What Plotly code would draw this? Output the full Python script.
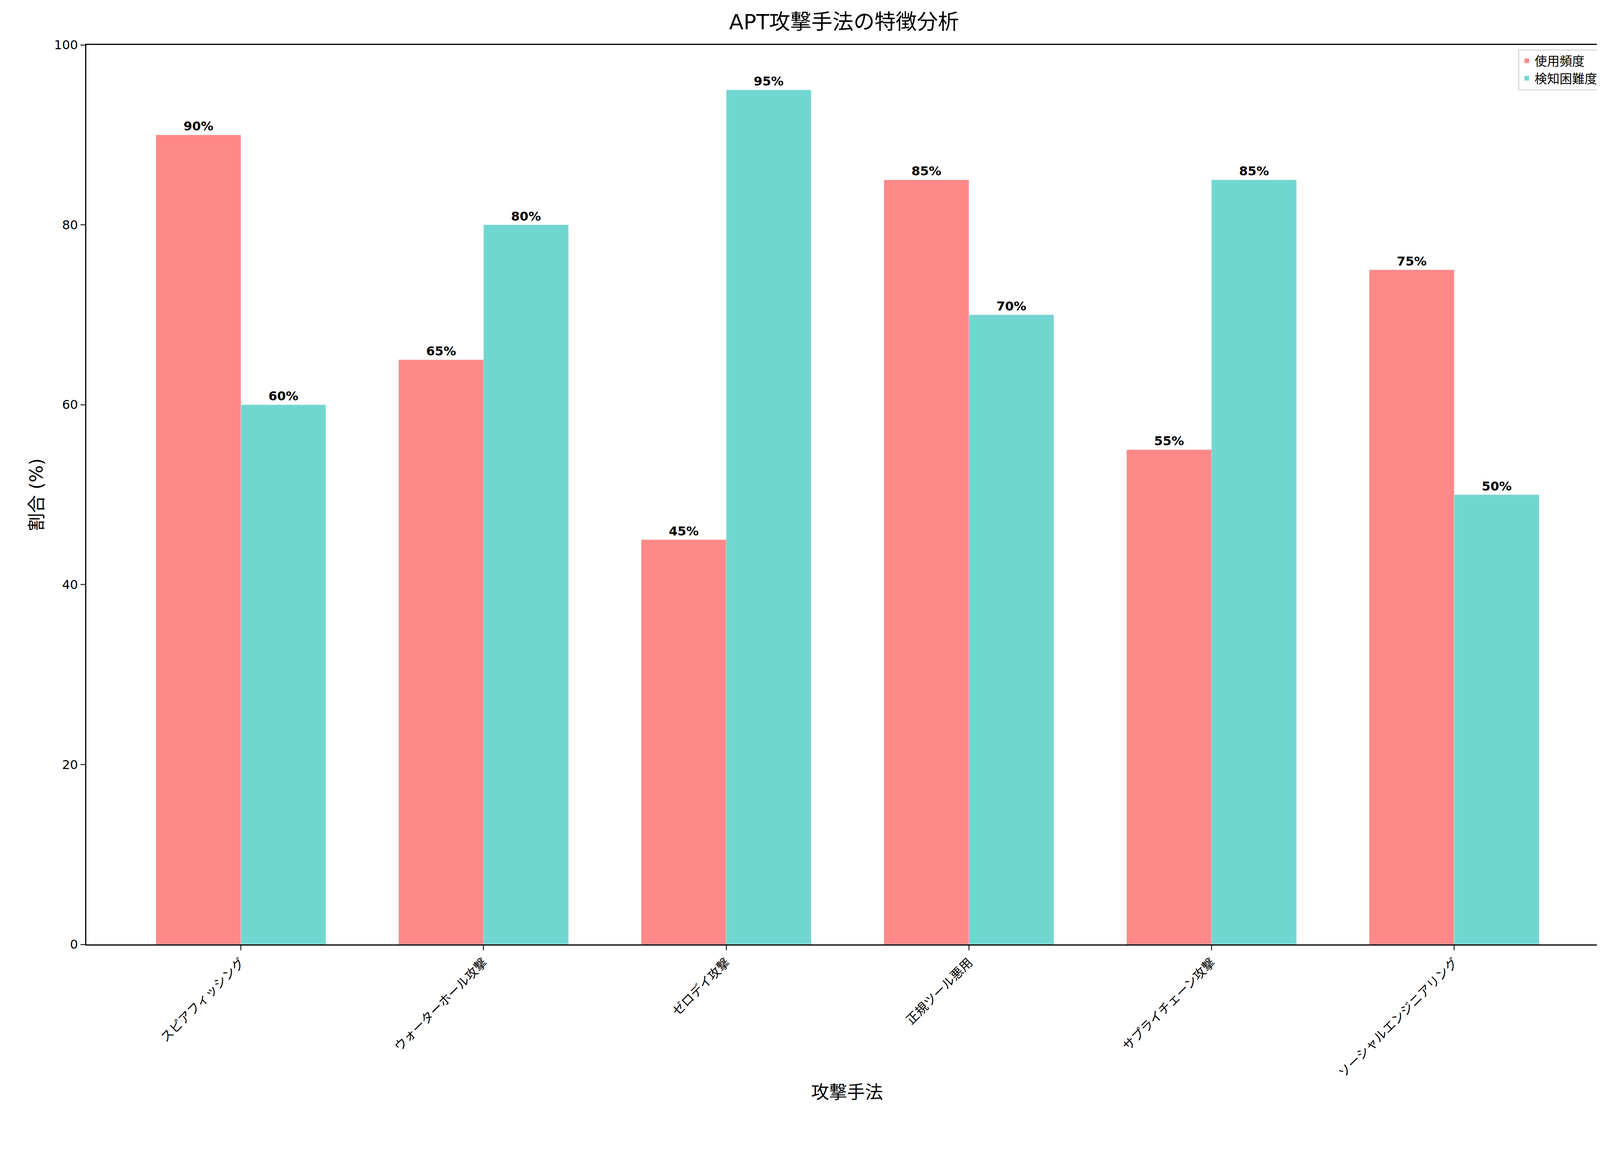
import plotly.graph_objects as go

categories = ["スピアフィッシング", "ウォーターホール攻撃", "ゼロデイ攻撃", "正規ツール悪用", "サプライチェーン攻撃", "ソーシャルエンジニアリング"]
usage = [90, 65, 45, 85, 55, 75]
difficulty = [60, 80, 95, 70, 85, 50]
y_ticks = [0, 20, 40, 60, 80, 100]

F = "DejaVu Sans, Noto Sans CJK JP"
fig = go.Figure()
fig.add_bar(x=categories, y=usage, name="使用頻度", marker_color="rgb(255,137,137)",
            text=[f"{v}%" for v in usage], textposition="outside",
            textfont=dict(size=32, color="black", family=F, weight="bold"), cliponaxis=False)
fig.add_bar(x=categories, y=difficulty, name="検知困難度", marker_color="rgb(114,214,208)",
            text=[f"{v}%" for v in difficulty], textposition="outside",
            textfont=dict(size=32, color="black", family=F, weight="bold"), cliponaxis=False)
fig.update_layout(
    width=4140, height=2940, barmode="group", bargap=0.3, bargroupgap=0,
    plot_bgcolor="white", paper_bgcolor="white",
    font=dict(family=F, size=32, color="black"),
    margin=dict(l=213, r=32, t=107, b=530),
    title=dict(text="APT攻撃手法の特徴分析", x=0.52, xanchor="center", y=0.99, yanchor="top", font=dict(size=54)),
    legend=dict(x=0.995, y=0.995, xanchor="right", yanchor="top", bordercolor="#cccccc", borderwidth=2,
                font=dict(size=32)),
    uniformtext=dict(minsize=20, mode="show"),
)
fig.update_xaxes(range=[-0.637, 5.633], tickangle=-45, showline=True, linecolor="black", linewidth=3, mirror=True,
                 ticks="outside", ticklen=12, tickwidth=3, tickfont=dict(size=32),
                 title=dict(text="攻撃手法", font=dict(size=46)))
fig.update_yaxes(range=[0, 100], tickvals=y_ticks, showline=True, linecolor="black", linewidth=3, mirror=True,
                 ticks="outside", ticklen=12, tickwidth=3, showgrid=False, tickfont=dict(size=32),
                 title=dict(text="割合 (%)", font=dict(size=46)))
fig.write_html("out.html")
